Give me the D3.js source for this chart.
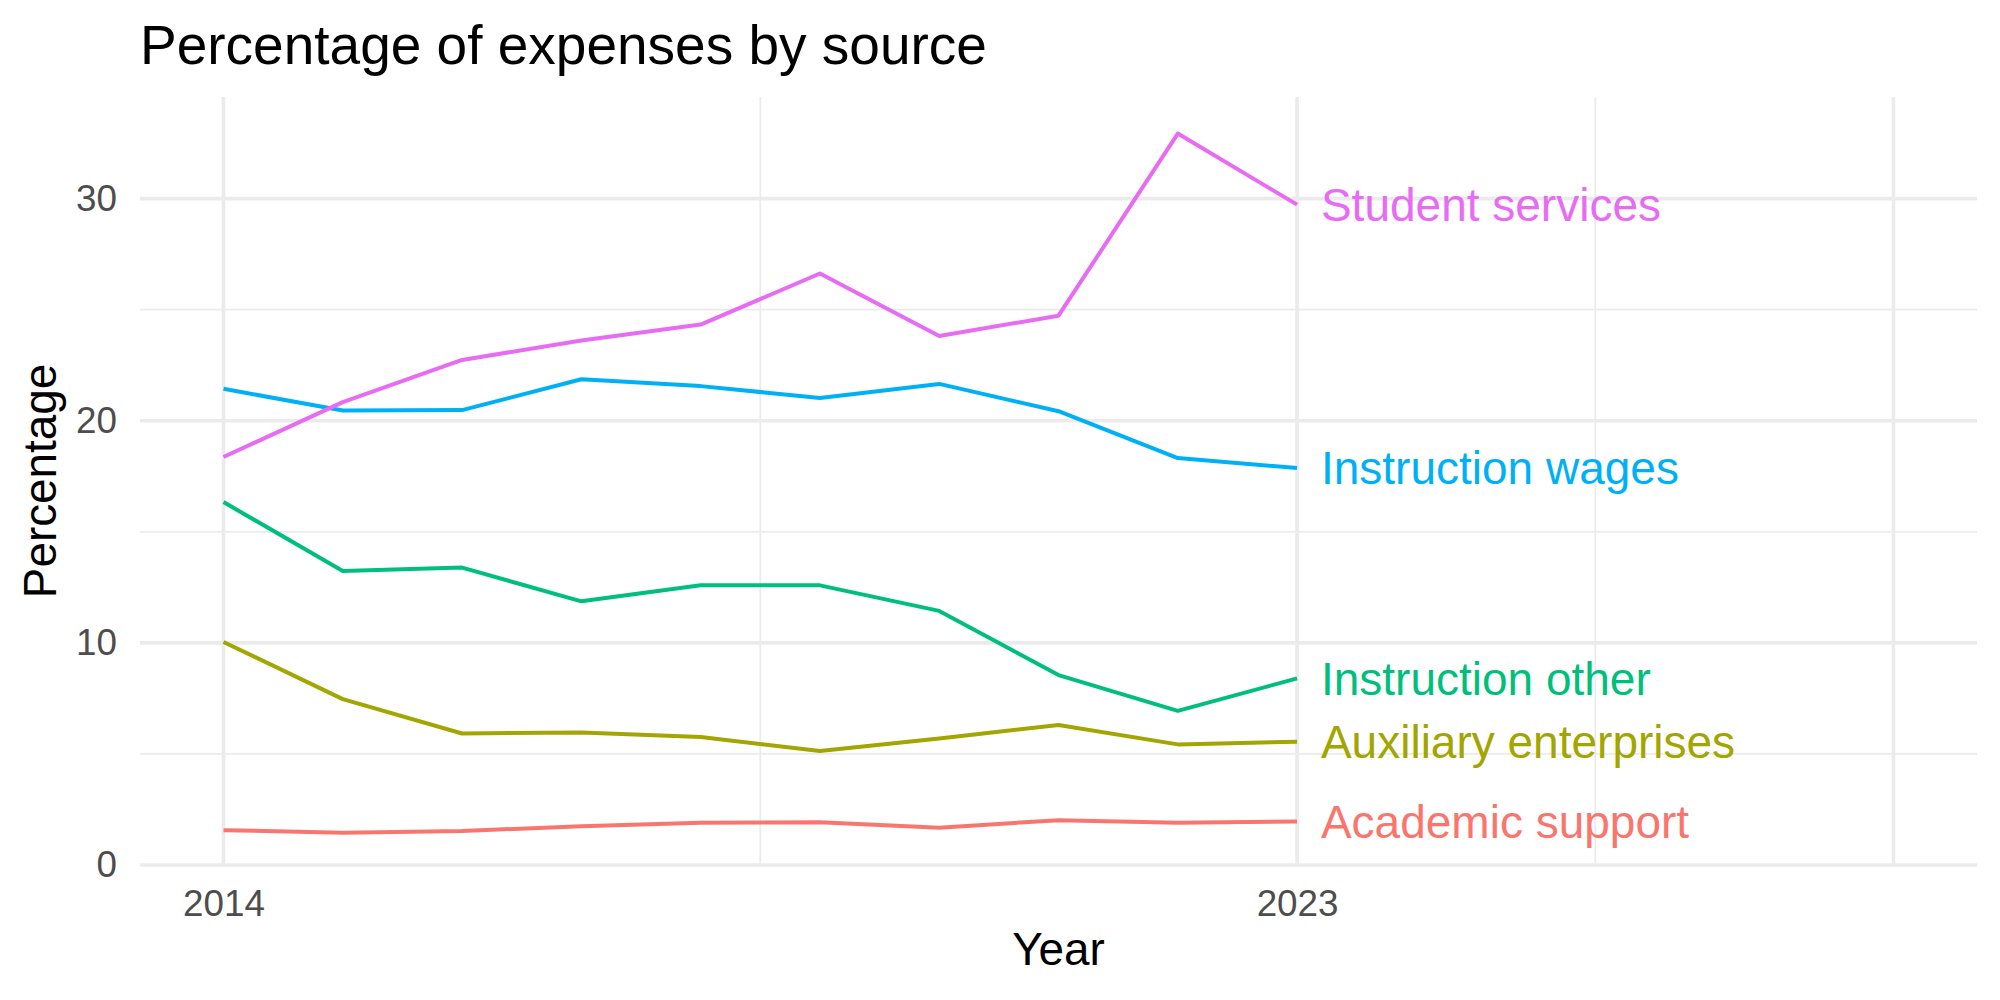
<!DOCTYPE html>
<html>
<head>
<meta charset="utf-8">
<script src="https://cdn.jsdelivr.net/npm/d3@7"></script>
<style>
	body { margin: 0; background: #fff; }
	text { font-family: "Liberation Sans", Arial, Helvetica, sans-serif; }
</style>
</head>
<body>
<svg width="2000" height="1000"></svg>
<script>
var years = [2014, 2015, 2016, 2017, 2018, 2019, 2020, 2021, 2022, 2023];
var academicSupport = [1.57, 1.45, 1.53, 1.75, 1.90, 1.92, 1.68, 2.02, 1.90, 1.96];
var auxiliaryEnterprises = [10.04, 7.47, 5.92, 5.97, 5.76, 5.13, 5.70, 6.30, 5.43, 5.55];
var instructionOther = [16.34, 13.24, 13.39, 11.87, 12.59, 12.59, 11.44, 8.55, 6.94, 8.40];
var instructionWages = [21.44, 20.46, 20.48, 21.87, 21.56, 21.03, 21.66, 20.43, 18.32, 17.87];
var studentServices = [18.37, 20.84, 22.74, 23.61, 24.33, 26.63, 23.82, 24.73, 32.93, 29.73];

var seriesNames = ["Academic support", "Auxiliary enterprises", "Instruction other", "Instruction wages", "Student services"];
var seriesValues = [academicSupport, auxiliaryEnterprises, instructionOther, instructionWages, studentServices];
var seriesColors = ["#F8766D", "#A3A500", "#00BF7D", "#00B0F6", "#E76BF3"];

var xLimits = [2014, 2028];
var xBreaks = [2014, 2023, 2028];
var xLabels = ["2014", "2023", ""];
var xMinor = [2018.5, 2025.5];
var yBreaks = [0, 10, 20, 30];
var yMinor = [5, 15, 25];

function drawPlot() {
	var margin = {left: 140, top: 97, right: 23, bottom: 135};
	var svg = d3.select("svg");
	var width = svg.attr("width") - margin.left - margin.right,
		height = svg.attr("height") - margin.top - margin.bottom;

	var series = seriesNames.map((name, i) => ({
		name: name,
		color: seriesColors[i],
		points: years.map((yr, j) => ({year: yr, value: seriesValues[i][j]}))
	}));

	var xPad = (xLimits[1] - xLimits[0]) * 0.05;
	var x = d3.scaleLinear()
		.domain([xLimits[0] - xPad, xLimits[1] + xPad])
		.range([0, width]);
	var yMax = d3.max(seriesValues.map(v => d3.max(v)));
	var y = d3.scaleLinear()
		.domain([0, yMax * 1.05])
		.range([height, 0]);

	var grp = svg.append("g")
		.attr("transform", "translate(" + margin.left + "," + margin.top + ")");

	// grid, minor first
	grp.selectAll(".ymin").data(yMinor).enter().append("line")
		.attr("x1", 0).attr("x2", width)
		.attr("y1", d => y(d)).attr("y2", d => y(d))
		.style("stroke", "#EBEBEB").style("stroke-width", 1.8);
	grp.selectAll(".xmin").data(xMinor).enter().append("line")
		.attr("x1", d => x(d)).attr("x2", d => x(d))
		.attr("y1", 0).attr("y2", height)
		.style("stroke", "#EBEBEB").style("stroke-width", 1.8);
	grp.selectAll(".ymaj").data(yBreaks).enter().append("line")
		.attr("x1", 0).attr("x2", width)
		.attr("y1", d => y(d)).attr("y2", d => y(d))
		.style("stroke", "#EBEBEB").style("stroke-width", 3.6);
	grp.selectAll(".xmaj").data(xBreaks).enter().append("line")
		.attr("x1", d => x(d)).attr("x2", d => x(d))
		.attr("y1", 0).attr("y2", height)
		.style("stroke", "#EBEBEB").style("stroke-width", 3.6);

	// axes, text only like theme_minimal
	var yAxis = grp.append("g")
		.call(d3.axisLeft(y).tickValues(yBreaks).tickSize(0).tickPadding(23));
	yAxis.select(".domain").remove();
	yAxis.selectAll("text")
		.style("font-family", "\"Liberation Sans\", Arial, sans-serif")
		.style("font-size", "36.8px").style("fill", "#4D4D4D");

	var xAxis = grp.append("g")
		.attr("transform", "translate(0," + height + ")")
		.call(d3.axisBottom(x).tickValues(xBreaks).tickFormat((d, i) => xLabels[i]).tickSize(0).tickPadding(25));
	xAxis.select(".domain").remove();
	xAxis.selectAll("text")
		.style("font-family", "\"Liberation Sans\", Arial, sans-serif")
		.style("font-size", "36.8px").style("fill", "#4D4D4D");

	var line = d3.line()
		.x(d => x(d.year))
		.y(d => y(d.value));

	grp.selectAll(".series").data(series).enter().append("path")
		.attr("d", d => line(d.points))
		.style("fill", "none")
		.style("stroke", d => d.color)
		.style("stroke-width", 4)
		.style("stroke-linejoin", "round");

	// direct labels next to the last point
	grp.selectAll(".lab").data(series).enter().append("text")
		.attr("x", d => x(d.points[d.points.length - 1].year + 0.2))
		.attr("y", d => y(d.points[d.points.length - 1].value))
		.attr("dy", "0.35em")
		.style("font-size", "46px")
		.style("fill", d => d.color)
		.text(d => d.name);

	svg.append("text")
		.attr("x", margin.left)
		.attr("y", 64)
		.style("font-size", "55px")
		.style("fill", "#000")
		.text("Percentage of expenses by source");

	svg.append("text")
		.attr("x", margin.left + width / 2)
		.attr("y", 965)
		.attr("text-anchor", "middle")
		.style("font-size", "45.8px")
		.style("fill", "#000")
		.text("Year");

	svg.append("text")
		.attr("transform", "translate(56," + (margin.top + height / 2) + ")rotate(-90)")
		.attr("text-anchor", "middle")
		.style("font-size", "45.8px")
		.style("fill", "#000")
		.text("Percentage");
}
drawPlot();
</script>
</body>
</html>
